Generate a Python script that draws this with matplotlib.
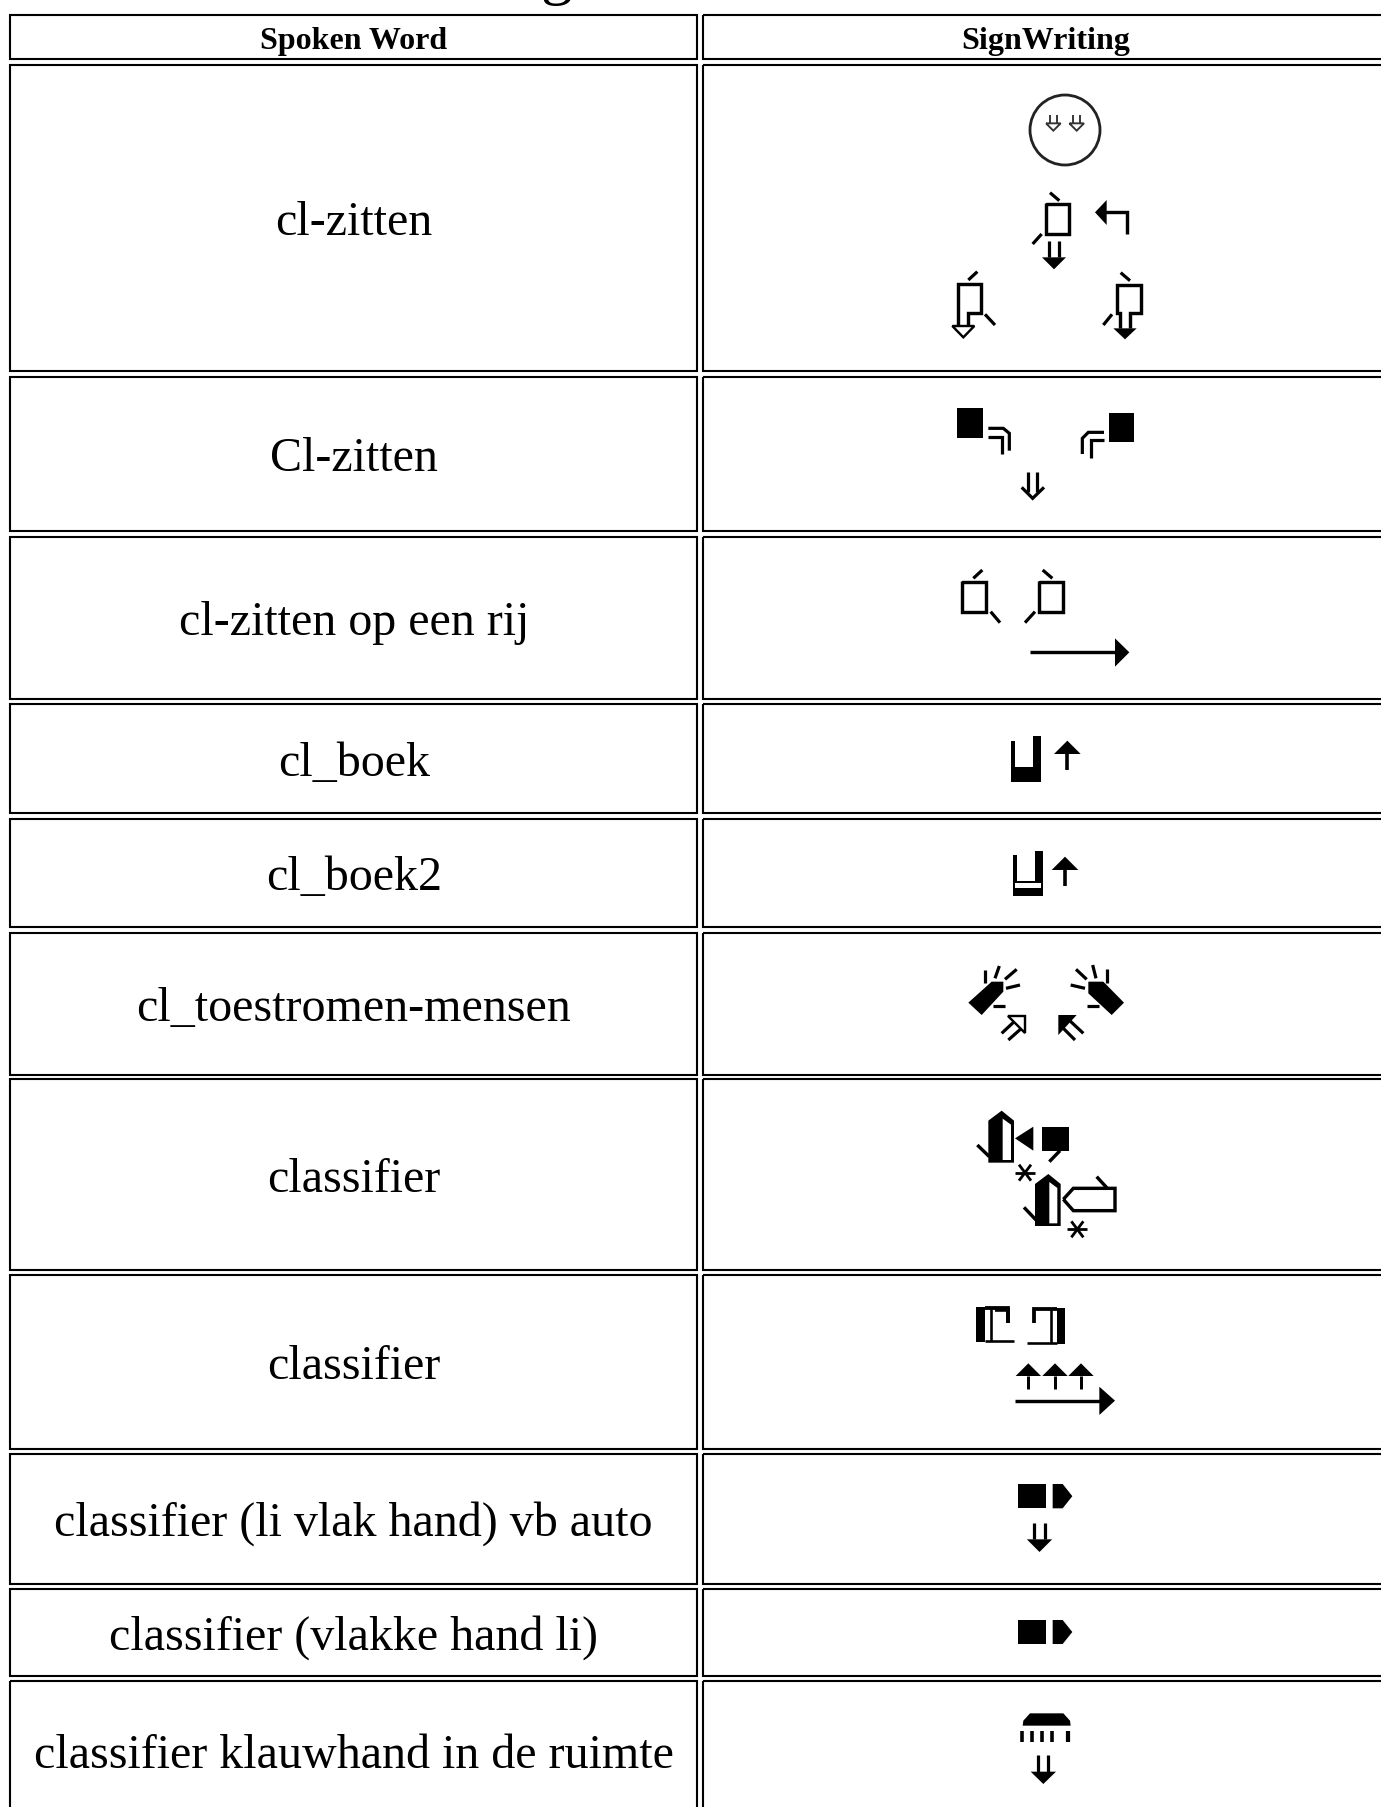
import matplotlib
matplotlib.use("Agg")
import matplotlib.pyplot as plt
from matplotlib.patches import Circle, Polygon, Rectangle

W, H = 1381, 1807

# Table contents
header_labels = ["Spoken Word", "SignWriting"]
row_labels = ["cl-zitten", "Cl-zitten", "cl-zitten op een rij", "cl_boek", "cl_boek2",
              "cl_toestromen-mensen", "classifier", "classifier",
              "classifier (li vlak hand) vb auto", "classifier (vlakke hand li)",
              "classifier klauwhand in de ruimte"]
# pixel edges of the cells (top, bottom), the last row runs off the page
row_tops = [15, 64.5, 377, 537, 704, 819, 933, 1079, 1275, 1454, 1589, 1681]
row_bottoms = [59, 371, 531, 699, 813, 927, 1075, 1270, 1449, 1584, 1676, 1821]
col_lefts = [10.5, 703]
col_rights = [697, 1400]

fig = plt.figure(figsize=(W / 100, H / 100), dpi=100)
ax = fig.add_axes([0, 0, 1, 1])
ax.set_xlim(0, W)
ax.set_ylim(H, 0)
ax.axis("off")

FONT = "Liberation Serif"
PX = 0.72  # px -> pt at dpi 100


# Sign glyphs were measured on 3x crops, so everything goes through an origin and a /3
class Crop:
    def __init__(self, ox, oy):
        self.ox = ox
        self.oy = oy

    def pts(self, points):
        return [(self.ox + x / 3, self.oy + y / 3) for x, y in points]

    def line(self, points, lw=3.2, color="black"):
        p = self.pts(points)
        ax.plot([q[0] for q in p], [q[1] for q in p], color=color, lw=lw * PX,
                solid_capstyle="butt", solid_joinstyle="miter")

    def fill(self, points, color="black"):
        ax.add_patch(Polygon(self.pts(points), closed=True, fc=color, ec="none"))

    def hollow(self, points, lw=2.4):
        ax.add_patch(Polygon(self.pts(points), closed=True, fc="white", ec="black", lw=lw * PX,
                             joinstyle="miter", zorder=3))

    def box(self, x0, y0, x1, y1, color="black"):
        self.fill([(x0, y0), (x1, y0), (x1, y1), (x0, y1)], color)

    def circle(self, x, y, r, lw=2.8):
        xy = self.pts([(x, y)])[0]
        ax.add_patch(Circle(xy, r / 3, fc="none", ec="#222222", lw=lw * PX))

    def down(self, x0, x1, top, base, tip, half, lw=3.2):
        # double stem with a filled head
        self.line([(x0, top), (x0, base)], lw)
        self.line([(x1, top), (x1, base)], lw)
        mid = (x0 + x1) / 2
        self.fill([(mid - half, base), (mid + half, base), (mid, tip)])

    def up(self, x, tip, base, bottom, half, lw=3.6):
        self.fill([(x - half, base), (x, tip), (x + half, base)])
        self.line([(x, base), (x, bottom)], lw)

    def star(self, x, y, r):
        self.line([(x - r, y), (x + r, y)], 2.8)
        self.line([(x - r * 0.6, y - r * 0.8), (x + r * 0.6, y + r * 0.8)], 2.8)
        self.line([(x + r * 0.6, y - r * 0.8), (x - r * 0.6, y + r * 0.8)], 2.8)


# Cell borders
for top, bottom in zip(row_tops, row_bottoms):
    for left, right in zip(col_lefts, col_rights):
        ax.add_patch(Rectangle((left, top), right - left, bottom - top, fc="none", ec="black",
                               lw=2.1 * PX))

# Text
col_center = (col_lefts[0] + col_rights[0]) / 2
ax.text(col_center, 49, header_labels[0], family=FONT, weight="bold", fontsize=32 * PX,
        ha="center", va="baseline")
ax.text(1045.5, 49, header_labels[1], family=FONT, weight="bold", fontsize=32 * PX,
        ha="center", va="baseline")
for label, top, bottom in zip(row_labels, row_tops[1:], row_bottoms[1:]):
    ax.text(col_center, (top + bottom) / 2 + 17, label, family=FONT, fontsize=48 * PX,
            ha="center", va="baseline")

# tail of the page title cut off by the top edge
ax.text(556, -8, "g", family=FONT, fontsize=64 * PX, ha="center", va="baseline", clip_on=True)

# row 1: cl-zitten
c = Crop(900, 80)
c.circle(495, 150, 105)
for x in (460, 530):
    c.line([(x - 10, 105), (x - 10, 132)], 1.9, "#333333")
    c.line([(x + 10, 105), (x + 10, 132)], 1.9, "#333333")
    c.line([(x - 22, 130), (x, 152), (x + 22, 130), (x - 22, 130)], 1.9, "#333333")
c.line([(437, 372), (507, 372), (507, 462), (437, 462), (437, 370)], 3.4)
c.line([(450, 338), (478, 362)])
c.line([(398, 492), (425, 462)])
c.down(447, 477, 482, 532, 568, 36)
c.fill([(585, 397), (620, 360), (620, 435)])
c.line([(615, 397), (680, 397), (680, 462)], 3.4)
c.line([(205, 600), (232, 575)])
c.line([(255, 703), (285, 735)])
c.line([(175, 740), (175, 612), (242, 612), (242, 700), (205, 700), (205, 740)], 3.4)
c.hollow([(157, 738), (223, 738), (190, 772)])
c.line([(662, 578), (690, 602)])
c.line([(610, 735), (636, 703)])
c.line([(660, 745), (660, 700), (650, 700), (650, 615), (722, 615), (722, 700), (690, 700), (690, 745)], 3.4)
c.fill([(640, 745), (710, 745), (675, 778)])

# rows 2 and 3
c = Crop(920, 390)
c.box(112, 55, 190, 145)
c.line([(205, 115), (250, 115), (268, 130), (268, 182)])
c.line([(205, 140), (245, 140), (245, 192)])
c.box(566, 68, 642, 155)
c.line([(552, 127), (505, 127), (487, 145), (487, 192)])
c.line([(552, 150), (512, 150), (512, 204)])
c.line([(325, 245), (325, 305)])
c.line([(352, 245), (352, 305)])
c.line([(305, 292), (338, 325), (372, 292)])
c.line([(127, 575), (198, 575), (198, 665), (127, 665), (127, 573)], 3.4)
c.line([(160, 565), (187, 540)])
c.line([(212, 665), (240, 698)])
c.line([(358, 575), (430, 575), (430, 665), (358, 665), (358, 573)], 3.4)
c.line([(368, 540), (397, 565)])
c.line([(315, 698), (345, 665)])
c.line([(330, 787), (590, 787)], 3.4)
c.fill([(585, 745), (628, 787), (585, 830)])

# rows 4, 5 and the hands of row 6
c = Crop(940, 720)
c.fill([(212, 62), (224, 62), (224, 140), (280, 140), (280, 48), (302, 48), (302, 187), (212, 187)])
c.up(382, 62, 102, 150, 40)
c.fill([(218, 405), (230, 405), (230, 482), (284, 482), (284, 392), (308, 392), (308, 528), (218, 528)])
c.box(224, 488, 302, 505, "white")
c.up(375, 410, 450, 498, 40)
c.fill([(85, 848), (155, 785), (190, 785), (190, 815), (125, 885)])
for seg in ([(135, 750), (135, 790)], [(178, 738), (165, 775)], [(230, 748), (195, 778)],
            [(240, 795), (198, 805)], [(195, 858), (160, 858)]):
    c.line(seg)
c.fill([(552, 848), (515, 885), (445, 820), (445, 785), (490, 785)])
for seg in ([(500, 748), (500, 790)], [(458, 735), (468, 775)], [(408, 748), (440, 778)],
            [(392, 795), (435, 805)], [(440, 858), (478, 858)]):
    c.line(seg)

# row 6 small arrows
c = Crop(960, 980)
c.line([(125, 160), (170, 118)])
c.line([(145, 180), (190, 140)])
c.hollow([(145, 107), (195, 107), (195, 160)])
c.line([(370, 160), (325, 118)])
c.line([(345, 180), (305, 140)])
c.fill([(295, 105), (350, 105), (295, 165)])

# rows 7 and 8
c = Crop(950, 1100)
c.fill([(115, 188), (115, 62), (155, 32), (192, 62), (192, 188)])
c.fill([(158, 180), (158, 56), (183, 74), (183, 180)], "white")
c.line([(82, 135), (118, 170)], 3.4)
c.fill([(195, 115), (250, 80), (250, 152)])
c.box(275, 82, 357, 152)
c.line([(298, 185), (330, 152)], 3.4)
c.star(225, 218, 30)
c.fill([(255, 378), (255, 252), (295, 222), (332, 252), (332, 378)])
c.fill([(298, 370), (298, 246), (322, 264), (322, 370)], "white")
c.line([(222, 322), (258, 360)], 3.4)
c.line([(340, 298), (370, 265), (495, 265), (495, 332), (370, 332), (340, 298)], 3.4)
c.line([(440, 230), (472, 265)], 3.4)
c.star(382, 388, 30)

c.box(78, 622, 104, 726)
c.line([(104, 722), (192, 722)], 2.6)
c.line([(122, 625), (122, 722)], 2.6)
c.line([(104, 625), (175, 625), (175, 668)], 3.8)
c.box(135, 632, 175, 668, "white")
c.line([(135, 630), (175, 630), (175, 668)], 3.6)
c.box(322, 625, 345, 732)
c.line([(230, 730), (322, 730)], 2.6)
c.line([(303, 628), (303, 730)], 2.6)
c.line([(322, 628), (252, 628), (252, 670)], 3.8)
for x in (235, 315, 393):
    c.up(x, 790, 828, 868, 38, 3)
c.line([(195, 902), (450, 902)], 3.4)
c.fill([(448, 860), (495, 902), (448, 945)])

# rows 9, 10 and 11
c = Crop(980, 1460)
for y0, y1 in ((72, 145), (480, 552)):
    c.box(115, y0, 198, y1)
    c.fill([(218, y0), (248, y0), (277, (y0 + y1) / 2), (248, y1), (218, y1)])
c.down(162, 195, 188, 238, 276, 38)
c.fill([(128, 797), (130, 782), (150, 760), (250, 760), (270, 782), (272, 797)])
for x in (125, 155, 187, 217):
    c.line([(x, 812), (x, 846)], 3.6)
c.line([(265, 812), (265, 846)], 4.2)
c.down(175, 205, 885, 935, 972, 38)

fig.savefig("out.png", dpi=100)
